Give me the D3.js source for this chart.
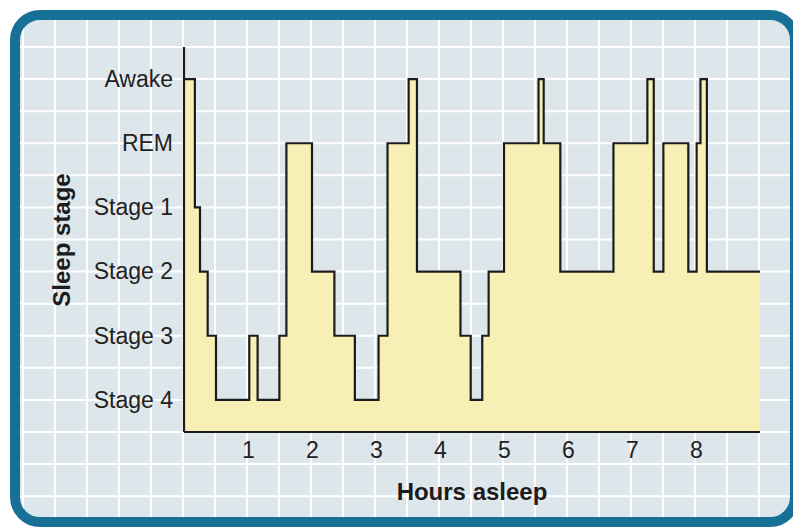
<!DOCTYPE html>
<html>
<head>
<meta charset="utf-8">
<script src="https://cdn.jsdelivr.net/npm/d3@7"></script>
<style>
  body { margin: 0; background: #fff; }
  svg { display: block; font-family: "Liberation Sans", Arial, sans-serif; }
</style>
</head>
<body>
<script>
// sleep stages, bottom to top
const stageLabels = ['Stage 4', 'Stage 3', 'Stage 2', 'Stage 1', 'REM', 'Awake'];

// hour at which each stage starts
const startHours = [0, 0.17, 0.25, 0.37, 0.5, 1.02, 1.15, 1.49, 1.6, 2.0, 2.35, 2.67, 3.04, 3.18, 3.51, 3.64,
    4.32, 4.48, 4.66, 4.76, 5.0, 5.54, 5.62, 5.88, 6.71, 7.24, 7.34, 7.49, 7.88, 8.01, 8.07, 8.17];
const stages = ['Awake', 'Stage 1', 'Stage 2', 'Stage 3', 'Stage 4', 'Stage 3', 'Stage 4', 'Stage 3', 'REM',
    'Stage 2', 'Stage 3', 'Stage 4', 'Stage 3', 'REM', 'Awake', 'Stage 2', 'Stage 3', 'Stage 4', 'Stage 3',
    'Stage 2', 'REM', 'Awake', 'REM', 'Stage 2', 'REM', 'Awake', 'Stage 2', 'REM', 'Stage 2', 'REM', 'Awake',
    'Stage 2'];
const endHour = 9;
const hourTicks = [1, 2, 3, 4, 5, 6, 7, 8];

const width = 793, height = 527;
const plot = { left: 184, right: 760, top: 47, bottom: 432 };

const x = d3.scaleLinear().domain([0, endHour]).range([plot.left, plot.right]);
const y = d3.scalePoint().domain(stageLabels).range([plot.bottom, plot.top]).padding(0.5);
const step = y.step();

const svg = d3.select('body').append('svg')
    .attr('width', width)
    .attr('height', height);

// frame + background
svg.append('clipPath').attr('id', 'inner')
  .append('rect')
    .attr('x', 20).attr('y', 20)
    .attr('width', 770).attr('height', 497)
    .attr('rx', 20);

svg.append('rect')
    .attr('x', 15).attr('y', 15)
    .attr('width', 780).attr('height', 507)
    .attr('rx', 25)
    .attr('fill', '#dde6ea')
    .attr('stroke', '#177096')
    .attr('stroke-width', 10);

// grid, every half hour / half stage
const grid = svg.append('g').attr('clip-path', 'url(#inner)')
    .attr('stroke', '#fff')
    .attr('stroke-width', 2);

d3.range(-2.5, 10, 0.5).forEach(h => {
    grid.append('line')
        .attr('x1', x(h) - 1).attr('x2', x(h) - 1)
        .attr('y1', 0).attr('y2', height);
});
const y0 = y(stageLabels[0]);
d3.range(-2, 6.5, 0.5).forEach(i => {
    grid.append('line')
        .attr('x1', 0).attr('x2', width)
        .attr('y1', y0 - i * step).attr('y2', y0 - i * step);
});

// hypnogram
const points = startHours.map((h, i) => ({ h: h, s: stages[i] }));
points.push({ h: endHour, s: stages[stages.length - 1] });

const area = d3.area()
    .curve(d3.curveStepAfter)
    .x(d => x(d.h))
    .y0(plot.bottom)
    .y1(d => y(d.s));

const line = d3.line()
    .curve(d3.curveStepAfter)
    .x(d => x(d.h))
    .y(d => y(d.s));

svg.append('path')
    .attr('d', area(points))
    .attr('fill', '#f7efb3');

svg.append('path')
    .attr('d', line(points))
    .attr('fill', 'none')
    .attr('stroke', '#1c1c1c')
    .attr('stroke-width', 2.2)
    .attr('stroke-linejoin', 'miter');

// axes
const xAxis = svg.append('g')
    .attr('transform', `translate(0,${plot.bottom})`)
    .call(d3.axisBottom(x).tickValues(hourTicks).tickSize(0).tickPadding(10));

const yAxis = svg.append('g')
    .attr('transform', `translate(${plot.left},0)`)
    .call(d3.axisLeft(y).tickSize(0).tickPadding(11));

[xAxis, yAxis].forEach(a => {
    a.select('.domain').attr('stroke', '#1c1c1c').attr('stroke-width', 2.2);
    a.selectAll('text')
        .attr('fill', '#222')
        .style('font-size', '23px')
        .style('font-family', '"Liberation Sans", Arial, sans-serif');
});
yAxis.select('.domain').attr('d', `M0,${plot.top}V${plot.bottom}`);
xAxis.select('.domain').attr('d', `M${plot.left},0H${plot.right}`);

// titles
svg.append('text')
    .attr('x', (plot.left + plot.right) / 2)
    .attr('y', 500)
    .attr('text-anchor', 'middle')
    .attr('fill', '#1c1c1c')
    .style('font-size', '24px')
    .style('font-weight', 'bold')
    .text('Hours asleep');

svg.append('text')
    .attr('transform', 'translate(70,240) rotate(-90)')
    .attr('text-anchor', 'middle')
    .attr('fill', '#1c1c1c')
    .style('font-size', '24px')
    .style('font-weight', 'bold')
    .text('Sleep stage');
</script>
</body>
</html>
